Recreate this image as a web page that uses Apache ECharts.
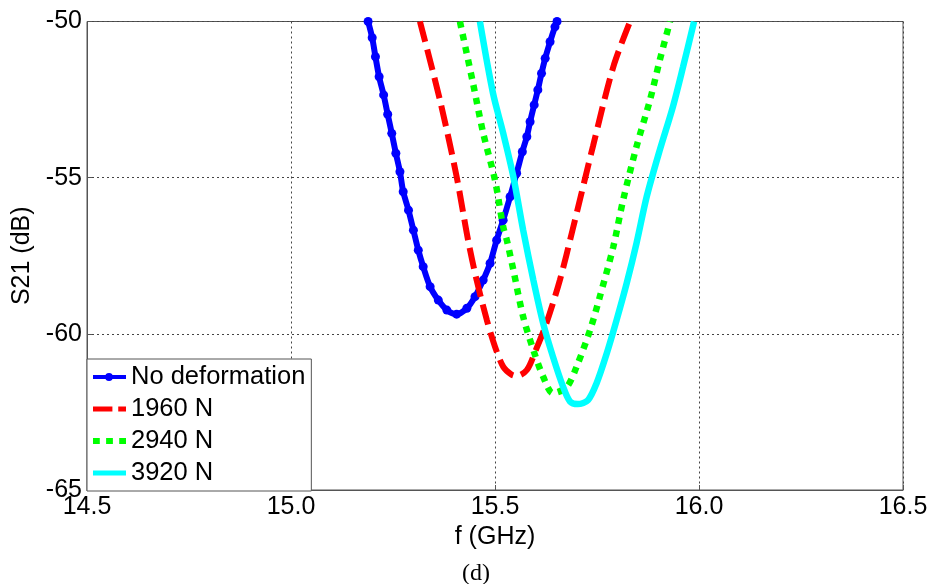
<!DOCTYPE html>
<html><head><meta charset="utf-8">
<script src="https://cdn.jsdelivr.net/npm/echarts@6/dist/echarts.min.js"></script>
<style>html,body{margin:0;padding:0;background:#fff}#c{width:933px;height:584px}</style>
</head><body><div id="c"></div>
<script>
const seriesNames = ['No deformation', '1960 N', '2940 N', '3920 N'];
const xTicks = ['14.5', '15.0', '15.5', '16.0', '16.5'];
const yTicks = ['-65', '-60', '-55', '-50'];

const blueF = [15.189, 15.199, 15.207, 15.216, 15.227, 15.237, 15.247, 15.257, 15.267, 15.275, 15.288, 15.300, 15.312, 15.324, 15.341, 15.361, 15.382, 15.406, 15.431, 15.451, 15.471, 15.488, 15.504, 15.520, 15.537, 15.553, 15.567, 15.578, 15.586, 15.596, 15.605, 15.614, 15.623, 15.635, 15.647, 15.652];
const blueDb = [-50.0, -50.52, -51.13, -51.77, -52.35, -52.97, -53.58, -54.22, -54.81, -55.45, -56.04, -56.68, -57.32, -57.85, -58.49, -58.92, -59.24, -59.37, -59.18, -58.81, -58.28, -57.74, -57.0, -56.36, -55.61, -54.86, -54.17, -53.69, -53.21, -52.67, -52.19, -51.66, -51.18, -50.65, -50.17, -50.0];

const redF = [15.316, 15.365, 15.406, 15.434, 15.455, 15.480, 15.500, 15.520, 15.540, 15.553, 15.578, 15.600, 15.626, 15.659, 15.690, 15.740, 15.790, 15.831];
const redDb = [-50.0, -52.51, -54.97, -57.0, -58.28, -59.56, -60.41, -61.05, -61.3, -61.35, -61.16, -60.52, -59.66, -58.28, -56.68, -54.0, -51.45, -50.0];

const greenF = [15.414, 15.446, 15.471, 15.500, 15.520, 15.529, 15.545, 15.569, 15.594, 15.618, 15.642, 15.676, 15.700, 15.733, 15.757, 15.790, 15.814, 15.847, 15.880, 15.904, 15.929];
const greenDb = [-50.0, -51.97, -53.57, -55.08, -56.57, -57.0, -57.96, -59.45, -60.52, -61.37, -61.9, -61.7, -61.05, -59.88, -58.81, -57.21, -55.72, -54.0, -52.51, -51.23, -50.0];

const cyanF = [15.463, 15.495, 15.520, 15.545, 15.569, 15.594, 15.618, 15.642, 15.667, 15.684, 15.703, 15.728, 15.749, 15.774, 15.798, 15.823, 15.847, 15.872, 15.904, 15.936, 15.961, 15.988];
const cyanDb = [-50.0, -52.29, -53.57, -54.97, -56.68, -58.28, -59.66, -60.73, -61.7, -62.17, -62.25, -62.12, -61.58, -60.62, -59.56, -58.37, -57.09, -55.6, -54.11, -52.73, -51.45, -50.0];

const zip = (a, b) => a.map((v, i) => [v, b[i]]);
const font = 'Liberation Sans, Arial, sans-serif';
const colors = ['#0000ff', '#ff0000', '#00ff00', '#00ffff'];
const legendIcons = [
  'path://M0,2h34v4h-34Z M12.5,4a4,4 0 1,1 8,0a4,4 0 1,1 -8,0Z',
  'path://M0,1.5h20v5h-20Z M26,1.5h8v5h-8Z',
  'path://M0,1h7v6h-7Z M13.5,1h7v6h-7Z M27,1h7v6h-7Z',
  'path://M0,1.5h34v5h-34Z'
];

const chart = echarts.init(document.getElementById('c'), null, {renderer: 'canvas'});
chart.setOption({
  animation: false,
  backgroundColor: '#fff',
  graphic: [{
    type: 'text', x: 476, y: 562,
    style: {text: '(d)', align: 'center', verticalAlign: 'top', fill: '#000',
      font: '24px "Liberation Serif", "Times New Roman", serif'}
  }],
  grid: {left: 87, right: 30, top: 21.5, bottom: 94, show: true, borderColor: '#555', borderWidth: 1, containLabel: false},
  legend: {
    orient: 'vertical', left: 87, top: 359,
    backgroundColor: '#fff', borderColor: '#555', borderWidth: 1,
    padding: [5, 6, 5, 6], itemGap: 6, itemWidth: 33, itemHeight: 14,
    textStyle: {fontFamily: font, fontSize: 25.5, color: '#000'},
    data: seriesNames.map((n, i) => ({name: n, icon: legendIcons[i], itemStyle: {color: colors[i], borderWidth: 0}}))
  },
  xAxis: {
    type: 'value', min: 14.5, max: 16.5, interval: 0.5,
    name: 'f (GHz)', nameLocation: 'middle', nameGap: 29,
    nameTextStyle: {fontFamily: font, fontSize: 25, color: '#000'},
    axisLine: {show: true, lineStyle: {color: '#555', width: 1}},
    axisTick: {show: true, inside: true, length: 5, lineStyle: {color: '#555'}},
    axisLabel: {margin: 5, fontFamily: font, fontSize: 25, color: '#000',
      formatter: v => xTicks.find(t => Math.abs(parseFloat(t) - v) < 1e-6) || ''},
    splitLine: {show: true, lineStyle: {color: '#444', type: [2, 3], width: 1}}
  },
  yAxis: {
    type: 'value', min: -65, max: -50, interval: 5,
    name: 'S21 (dB)', nameLocation: 'middle', nameGap: 50, nameRotate: 90,
    nameTextStyle: {fontFamily: font, fontSize: 25, color: '#000'},
    axisLine: {show: true, lineStyle: {color: '#555', width: 1}},
    axisTick: {show: true, inside: true, length: 5, lineStyle: {color: '#555'}},
    axisLabel: {margin: 5, fontFamily: font, fontSize: 25, color: '#000',
      formatter: v => yTicks.find(t => Math.abs(parseFloat(t) - v) < 1e-6) || ''},
    splitLine: {show: true, lineStyle: {color: '#444', type: [2, 3], width: 1}}
  },
  series: [
    {name: seriesNames[0], type: 'line', data: zip(blueF, blueDb), smooth: 0.3, clip: true,
     symbol: 'circle', symbolSize: 9, showSymbol: true,
     itemStyle: {color: colors[0]}, lineStyle: {color: colors[0], width: 6}, z: 2},
    {name: seriesNames[1], type: 'line', data: zip(redF, redDb), smooth: 0.3, clip: true, showSymbol: false, symbol: 'none',
     itemStyle: {color: colors[1]}, lineStyle: {color: colors[1], width: 6, type: [21, 8]}, z: 3},
    {name: seriesNames[2], type: 'line', data: zip(greenF, greenDb), smooth: 0.3, clip: true, showSymbol: false, symbol: 'none',
     itemStyle: {color: colors[2]}, lineStyle: {color: colors[2], width: 6.5, type: [6.5, 6.5]}, z: 4},
    {name: seriesNames[3], type: 'line', data: zip(cyanF, cyanDb), smooth: 0.3, clip: true, showSymbol: false, symbol: 'none',
     itemStyle: {color: colors[3]}, lineStyle: {color: colors[3], width: 6.5}, z: 5}
  ]
});
</script>
</body></html>
